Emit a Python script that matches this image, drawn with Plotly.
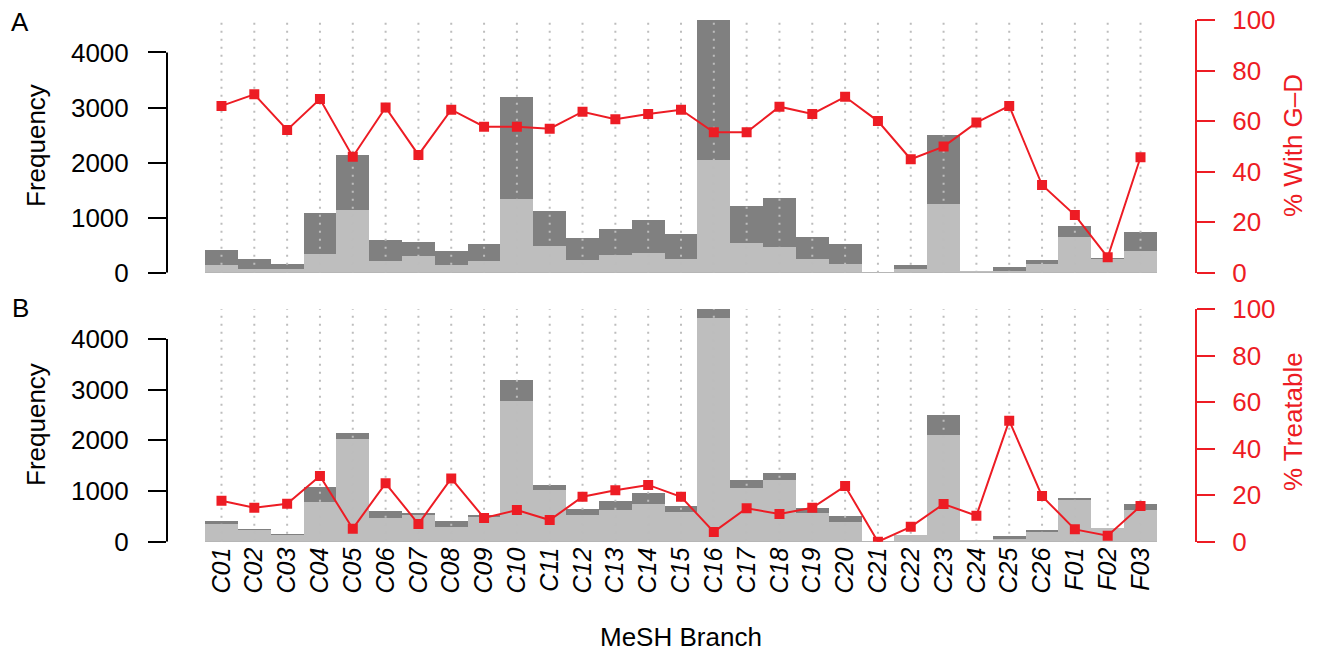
import plotly.graph_objects as go

categories = ["C01", "C02", "C03", "C04", "C05", "C06", "C07", "C08", "C09", "C10",
              "C11", "C12", "C13", "C14", "C15", "C16", "C17", "C18", "C19", "C20",
              "C21", "C22", "C23", "C24", "C25", "C26", "F01", "F02", "F03"]

total_freq = [412, 250, 160, 1077, 2137, 598, 558, 400, 523, 3193,
              1118, 636, 796, 957, 712, 4590, 1211, 1363, 655, 514,
              10, 140, 2505, 32, 107, 230, 853, 268, 740]

light_a = [140, 75, 75, 339, 1138, 212, 303, 140, 212, 1338,
           485, 230, 321, 357, 249, 2045, 539, 467, 249, 158,
           5, 73, 1247, 15, 36, 158, 648, 249, 394]

light_b = [348, 236, 132, 787, 2020, 466, 525, 289, 486, 2767,
           1017, 525, 623, 741, 584, 4419, 1056, 1213, 564, 387,
           3, 130, 2098, 30, 53, 191, 820, 262, 623]

pct_gd = [66.0, 70.6, 56.5, 68.7, 45.9, 65.4, 46.6, 64.5, 57.8, 57.8,
          57.0, 63.7, 60.7, 62.8, 64.5, 55.6, 55.6, 65.7, 62.8, 69.6,
          60.0, 44.9, 49.9, 59.4, 66.0, 34.7, 22.8, 6.1, 45.7]

pct_treat = [17.6, 14.6, 16.3, 28.2, 5.6, 25.1, 7.6, 27.2, 10.2, 13.6,
             9.3, 19.3, 22.1, 24.4, 19.3, 4.2, 14.4, 11.9, 14.6, 23.9,
             0.0, 6.4, 16.2, 11.2, 52.0, 19.6, 5.3, 2.6, 15.3]

freq_ticks = [0, 1000, 2000, 3000, 4000]
pct_ticks = [0, 20, 40, 60, 80, 100]

W, H = 1321, 653
FONT = "Liberation Sans, Arial, sans-serif"
RED = "#ED1C24"
DARK = "#808080"
LIGHT = "#BEBEBE"
DOT = "#BDBDBD"

xd = [167 / W, 1195 / W]
ydA = [1 - 272.7 / H, 1 - 20 / H]
ydB = [1 - 541.7 / H, 1 - 309 / H]

n = len(categories)
pad = n * 0.04
xrange_ = [-0.5 - pad, n - 0.5 + pad]
ytop = max(total_freq)

fig = go.Figure()

def panel(xa, ya, yr, light, pct):
    fig.add_trace(go.Bar(x=categories, y=total_freq, width=1, marker=dict(color=DARK, line=dict(width=0)),
                         xaxis=xa, yaxis=ya, showlegend=False))
    fig.add_trace(go.Bar(x=categories, y=light, width=1, marker=dict(color=LIGHT, line=dict(width=0)),
                         xaxis=xa, yaxis=ya, showlegend=False))
    gx, gy = [], []
    for c in categories:
        gx += [c, c, None]
        gy += [0, ytop, None]
    fig.add_trace(go.Scatter(x=gx, y=gy, mode="lines", line=dict(color=DOT, width=2, dash="2px,6px"),
                             xaxis=xa, yaxis=ya, showlegend=False, hoverinfo="skip"))
    fig.add_trace(go.Scatter(x=categories, y=pct, mode="lines+markers",
                             line=dict(color=RED, width=2),
                             marker=dict(symbol="square", size=10, color=RED),
                             xaxis=xa, yaxis=yr, showlegend=False))

panel("x", "y", "y2", light_a, pct_gd)
panel("x2", "y3", "y4", light_b, pct_treat)

left_axis = dict(range=[0, ytop], tickvals=freq_ticks, ticks="outside", ticklen=18, tickwidth=2,
                 tickcolor="black", showgrid=False, zeroline=False, showline=False, automargin=False,
                 tickfont=dict(family=FONT, size=26, color="black"), ticklabelstandoff=14)
right_axis = dict(range=[0, 100], tickvals=pct_ticks, ticks="outside", ticklen=18, tickwidth=2,
                  tickcolor=RED, showgrid=False, zeroline=False, showline=True, linecolor=RED,
                  linewidth=2, side="right", automargin=False,
                  tickfont=dict(family=FONT, size=26, color=RED), ticklabelstandoff=12)

fig.update_layout(
    width=W, height=H, autosize=False,
    margin=dict(l=0, r=0, t=0, b=0, pad=0, autoexpand=False),
    paper_bgcolor="white", plot_bgcolor="white",
    barmode="overlay", bargap=0,
    xaxis=dict(domain=xd, anchor="y", range=xrange_, showticklabels=False, ticks="", automargin=False,
               showgrid=False, zeroline=False, showline=False),
    xaxis2=dict(domain=xd, anchor="y3", range=xrange_, ticks="", tickangle=-90, automargin=False,
                showgrid=False, zeroline=False, showline=False,
                tickfont=dict(family=FONT, size=25, color="black", style="italic")),
    yaxis=dict(domain=ydA, anchor="x", **left_axis),
    yaxis2=dict(overlaying="y", anchor="x", **right_axis),
    yaxis3=dict(domain=ydB, anchor="x2", **left_axis),
    yaxis4=dict(overlaying="y3", anchor="x2", **right_axis),
    font=dict(family=FONT, size=26, color="black"),
)

fig.add_shape(type="line", xref="paper", yref="y", x0=xd[0], x1=xd[0], y0=freq_ticks[0], y1=freq_ticks[-1],
              line=dict(color="black", width=2))
fig.add_shape(type="line", xref="paper", yref="y3", x0=xd[0], x1=xd[0], y0=freq_ticks[0], y1=freq_ticks[-1],
              line=dict(color="black", width=2))

def ann(text, x, y, angle=0, color="black", size=26):
    fig.add_annotation(text=text, x=x / W, y=1 - y / H, xref="paper", yref="paper",
                       showarrow=False, textangle=angle, xanchor="center", yanchor="middle",
                       borderpad=0, font=dict(family=FONT, size=size, color=color))

ann("A", 20, 22)
ann("B", 20, 308)
ann("Frequency", 36, 146, -90)
ann("Frequency", 36, 425, -90)
ann("% With G\u2013D", 1293, 146, -90, RED)
ann("% Treatable", 1293, 422, -90, RED)
ann("MeSH Branch", 681, 637)

fig.write_html("out.html", include_plotlyjs=True, full_html=True,
               config={"displayModeBar": False},
               post_script="document.body.style.margin='0px';document.body.style.overflow='hidden';")
